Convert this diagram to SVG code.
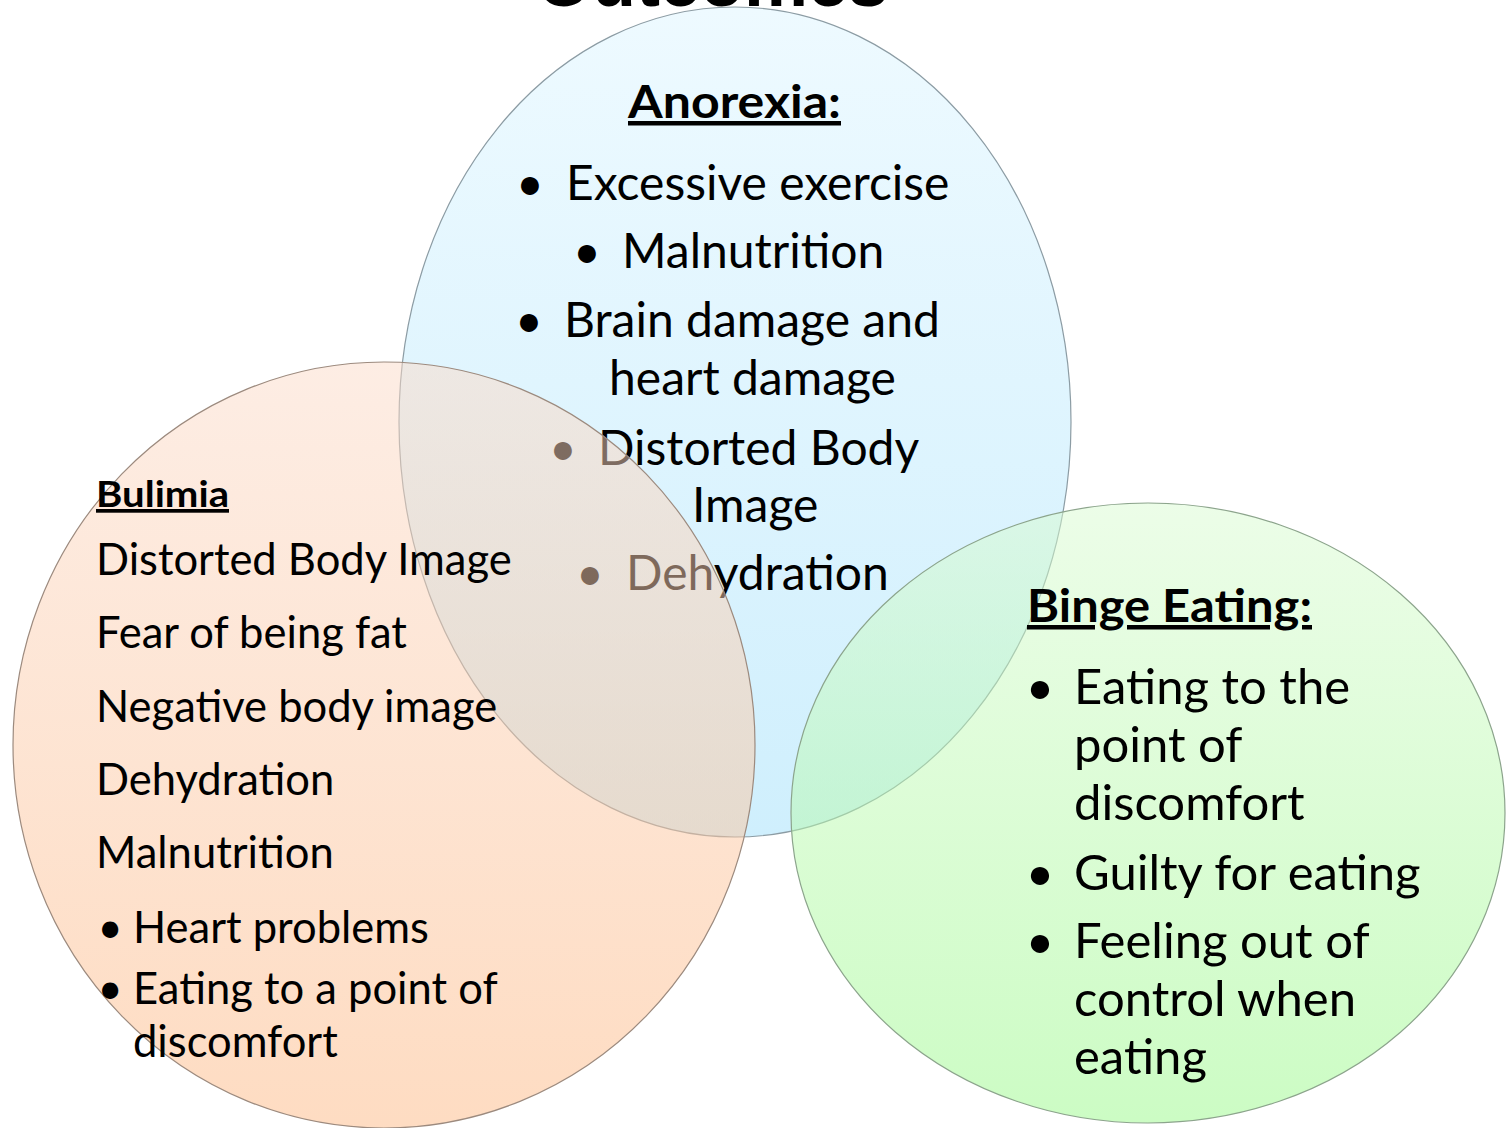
<svg xmlns="http://www.w3.org/2000/svg" width="1506" height="1128" viewBox="0 0 1506 1128">
<defs>
<linearGradient id="gBlue" gradientUnits="userSpaceOnUse" x1="0" y1="7" x2="0" y2="837"><stop offset="0" stop-color="#eefaff"/><stop offset="1" stop-color="#cfeffd"/></linearGradient>
<linearGradient id="gPeach" gradientUnits="userSpaceOnUse" x1="0" y1="362" x2="0" y2="1128"><stop offset="0" stop-color="#fbdbc9"/><stop offset="1" stop-color="#fdb985"/></linearGradient>
<linearGradient id="gGreen" gradientUnits="userSpaceOnUse" x1="0" y1="503" x2="0" y2="1123"><stop offset="0" stop-color="#d9fbd1"/><stop offset="1" stop-color="#99f989"/></linearGradient>
<style>
.t{font-family:Lato,"Open Sans",sans-serif;fill:#000}
.h{font-weight:bold;text-decoration:underline}
.c{stroke-width:1.2}
</style>
</defs>
<rect width="1506" height="1128" fill="#fff"/>
<text x="712" y="6" text-anchor="middle" style="font-family:'Liberation Sans',sans-serif;font-weight:bold;font-size:72px">Outcomes</text>
<g id="anorexia">
<ellipse class="c" cx="735" cy="422" rx="336" ry="415" fill="url(#gBlue)" stroke="#8c9ca4"/>
<g class="t" font-size="48">
<text x="628" y="118" class="h" font-size="45" textLength="213" lengthAdjust="spacingAndGlyphs">Anorexia:</text>
<text x="530" y="200" text-anchor="middle">•</text><text x="566" y="200">Excessive exercise</text>
<text x="587" y="268" text-anchor="middle">•</text><text x="622" y="268">Malnutrition</text>
<text x="529" y="337" text-anchor="middle">•</text><text x="564" y="337">Brain damage and</text>
<text x="609" y="395">heart damage</text>
<text x="563" y="465" text-anchor="middle">•</text><text x="598" y="465">Distorted Body</text>
<text x="692" y="522">Image</text>
<text x="590" y="590" text-anchor="middle">•</text><text x="626" y="590">Dehydration</text>
</g>
</g>
<g id="bulimia">
<ellipse class="c" cx="384" cy="745" rx="371" ry="383" fill="url(#gPeach)" fill-opacity="0.5" stroke="#9c8a7e"/>
</g>
<g id="binge">
<ellipse class="c" cx="1148" cy="813" rx="357" ry="310" fill="url(#gGreen)" fill-opacity="0.5" stroke="#8ca48c"/>
</g>
<g id="connectors"/>
<g id="bulimia-text" class="t" font-size="43.5">
<text x="96" y="507" class="h" font-size="37" textLength="133" lengthAdjust="spacingAndGlyphs">Bulimia</text>
<text x="96" y="575">Distorted Body Image</text>
<text x="96" y="648">Fear of being fat</text>
<text x="96" y="722">Negative body image</text>
<text x="96" y="795">Dehydration</text>
<text x="96" y="868">Malnutrition</text>
<text x="110" y="943" text-anchor="middle">•</text><text x="133" y="943">Heart problems</text>
<text x="110" y="1004" text-anchor="middle">•</text><text x="133" y="1004">Eating to a point of</text>
<text x="133" y="1057">discomfort</text>
</g>
<g id="binge-text" class="t" font-size="49">
<text x="1027" y="622" class="h" font-size="45" textLength="285" lengthAdjust="spacingAndGlyphs">Binge Eating:</text>
<text x="1040" y="704" text-anchor="middle">•</text><text x="1074" y="704">Eating to the</text>
<text x="1074" y="762">point of</text>
<text x="1074" y="820">discomfort</text>
<text x="1040" y="890" text-anchor="middle">•</text><text x="1074" y="890">Guilty for eating</text>
<text x="1040" y="958" text-anchor="middle">•</text><text x="1074" y="958">Feeling out of</text>
<text x="1074" y="1016">control when</text>
<text x="1074" y="1074">eating</text>
</g>
</svg>
